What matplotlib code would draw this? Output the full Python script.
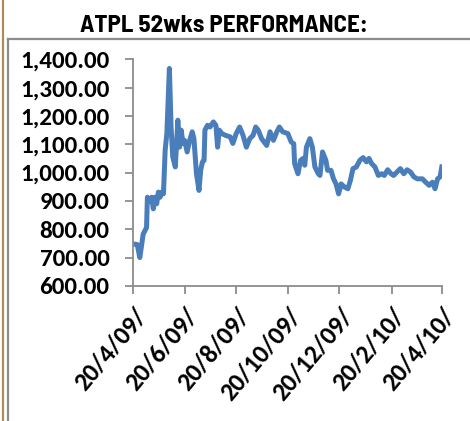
import matplotlib
matplotlib.use("Agg")
import matplotlib.pyplot as plt
from matplotlib.lines import Line2D
import pandas as pd

title = "ATPL 52wks PERFORMANCE:"

dates = [
    "2009-04-20", "2009-04-25", "2009-04-28", "2009-04-30", "2009-05-02", "2009-05-06",
    "2009-05-07", "2009-05-10", "2009-05-12", "2009-05-14", "2009-05-16", "2009-05-18",
    "2009-05-20", "2009-05-22", "2009-05-24", "2009-05-26", "2009-05-28", "2009-05-30",
    "2009-06-02", "2009-06-04", "2009-06-06", "2009-06-09", "2009-06-12", "2009-06-14",
    "2009-06-16", "2009-06-18", "2009-06-20", "2009-06-23", "2009-06-26", "2009-06-29",
    "2009-07-01", "2009-07-04", "2009-07-07", "2009-07-09", "2009-07-11", "2009-07-13",
    "2009-07-14", "2009-07-17", "2009-07-20", "2009-07-24", "2009-07-27", "2009-07-29",
    "2009-07-31", "2009-08-03", "2009-08-07", "2009-08-13", "2009-08-16", "2009-08-20",
    "2009-08-24", "2009-08-28", "2009-09-01", "2009-09-05", "2009-09-09", "2009-09-12",
    "2009-09-15", "2009-09-19", "2009-09-25", "2009-09-29", "2009-10-03", "2009-10-07",
    "2009-10-10", "2009-10-14", "2009-10-20", "2009-10-24", "2009-10-27", "2009-10-28",
    "2009-11-01", "2009-11-04", "2009-11-07", "2009-11-09", "2009-11-11", "2009-11-15",
    "2009-11-18", "2009-11-21", "2009-11-25", "2009-11-27", "2009-11-30", "2009-12-04",
    "2009-12-06", "2009-12-10", "2009-12-13", "2009-12-16", "2009-12-19", "2009-12-22",
    "2009-12-26", "2009-12-30", "2010-01-02", "2010-01-05", "2010-01-09", "2010-01-13",
    "2010-01-17", "2010-01-21", "2010-01-24", "2010-01-27", "2010-01-31", "2010-02-04",
    "2010-02-08", "2010-02-11", "2010-02-15", "2010-02-19", "2010-02-22", "2010-02-26",
    "2010-03-02", "2010-03-06", "2010-03-10", "2010-03-14", "2010-03-18", "2010-03-22",
    "2010-03-28", "2010-04-01", "2010-04-05", "2010-04-09", "2010-04-12", "2010-04-15",
    "2010-04-18", "2010-04-20",
]
prices = [
    748, 746, 700, 740, 783, 806,
    913, 900, 913, 872, 913, 890,
    931, 913, 931, 925, 1079, 1138,
    1368, 1161, 1055, 1020, 1185, 1090,
    1150, 1103, 1114, 1073, 1114, 1144,
    1120, 996, 937, 1008, 1037, 1043,
    1150, 1167, 1161, 1179, 1167, 1090,
    1150, 1138, 1132, 1126, 1103, 1138,
    1161, 1132, 1090, 1120, 1132, 1161,
    1150, 1120, 1096, 1144, 1114, 1144,
    1161, 1144, 1138, 1108, 1102, 1032,
    996, 1043, 1050, 1026, 1090, 1120,
    1090, 1020, 996, 990, 1073, 1043,
    1008, 1008, 978, 960, 925, 960,
    949, 943, 973, 1014, 1020, 1043,
    1053, 1038, 1050, 1032, 1020, 990,
    996, 990, 1010, 996, 990, 1002,
    1014, 996, 1010, 1002, 985, 978,
    978, 966, 955, 966, 943, 978,
    985, 1020,
]

tick_dates = ["2009-04-20", "2009-06-20", "2009-08-20", "2009-10-20",
              "2009-12-20", "2010-02-20", "2010-04-20"]
tick_labels = ["20/4/09/", "20/6/09/", "20/8/09/", "20/10/09/",
               "20/12/09/", "20/2/10/", "20/4/10/"]
y_ticks = [600, 700, 800, 900, 1000, 1100, 1200, 1300, 1400]

label_font = ["Carlito", "DejaVu Sans"]
title_font = ["Barlow Semi Condensed", "DejaVu Sans"]

x = pd.to_datetime(dates)
xt = pd.to_datetime(tick_dates)

fig = plt.figure(figsize=(4.7, 4.21), dpi=100)
ax = fig.add_axes([0.283, 0.321, 0.657, 0.538])

ax.plot(x, prices, color="#4A7EBB", linewidth=3.6, solid_joinstyle="round")

ax.set_xlim(xt[0], xt[-1])
ax.set_ylim(600, 1400)
ax.set_yticks(y_ticks)
ax.set_yticklabels([f"{v:,.2f}" for v in y_ticks], fontsize=18, fontweight="bold",
                   family=label_font)
ax.set_xticks(xt)
ax.set_xticklabels(tick_labels, fontsize=18.5, fontweight="bold", rotation=50,
                   ha="right", va="top", rotation_mode="anchor", family=label_font)

for side in ["top", "right"]:
    ax.spines[side].set_visible(False)
for side in ["left", "bottom"]:
    ax.spines[side].set_color("#8C8C8C")
    ax.spines[side].set_linewidth(1.3)
ax.tick_params(axis="both", direction="out", length=6, width=1.3, color="#8C8C8C")
ax.tick_params(axis="y", pad=11)
ax.tick_params(axis="x", pad=7)

# outer frame (gray chart box, brown page edge)
fig.add_artist(Line2D([0.016, 0.016], [0, 0.907], color="#8C8C8C", lw=1.6))
fig.add_artist(Line2D([0.016, 1.0], [0.907, 0.907], color="#8C8C8C", lw=1.6))
fig.add_artist(Line2D([0.007, 0.007], [0, 1], color="#B08B5A", lw=1.6))

fig.text(0.17, 0.925, title, fontsize=18, fontweight="bold", ha="left", va="baseline",
         family=title_font)

fig.savefig("out.png", dpi=100)
